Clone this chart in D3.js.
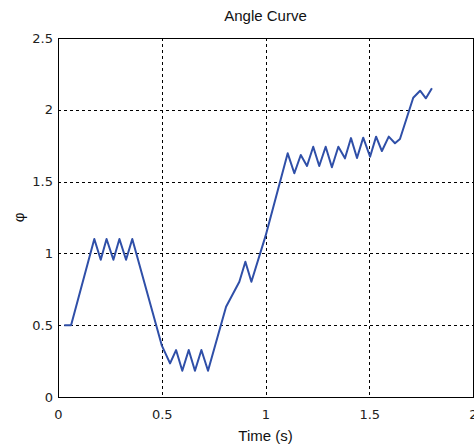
<!DOCTYPE html>
<html>
<head>
<meta charset="utf-8">
<script src="https://cdn.jsdelivr.net/npm/d3@7"></script>
<style>
  body { margin: 0; background: #fff; }
  svg { display: block; overflow: visible; }
</style>
</head>
<body>
<div id="chart"></div>
<script>
// Angle curve, values
const timeValues = [0.03, 0.063, 0.175, 0.206, 0.234, 0.267, 0.296, 0.328, 0.358, 0.5, 0.540,
    0.569, 0.599, 0.630, 0.660, 0.691, 0.723, 0.810, 0.874, 0.903, 0.932, 1.0, 1.107,
    1.139, 1.170, 1.200, 1.230, 1.259, 1.290, 1.320, 1.351, 1.383, 1.412, 1.441, 1.471,
    1.504, 1.533, 1.561, 1.594, 1.624, 1.648, 1.712, 1.745, 1.773, 1.802];
const angleValues = [0.5, 0.5, 1.10, 0.956, 1.10, 0.956, 1.10, 0.956, 1.10, 0.36, 0.234,
    0.327, 0.183, 0.327, 0.183, 0.327, 0.183, 0.629, 0.803, 0.942, 0.803, 1.12, 1.697,
    1.558, 1.685, 1.609, 1.743, 1.609, 1.743, 1.600, 1.743, 1.662, 1.803, 1.664, 1.806,
    1.673, 1.813, 1.713, 1.813, 1.767, 1.797, 2.084, 2.133, 2.080, 2.150];
const xTicks = [0, 0.5, 1, 1.5, 2];
const yTicks = [0, 0.5, 1, 1.5, 2, 2.5];
const xTickLabels = ["0", "0.5", "1", "1.5", "2"];
const yTickLabels = ["0", "0.5", "1", "1.5", "2", "2.5"];

const width = 474, height = 445;
const margin = {top: 38, left: 58, right: 1, bottom: 48};
const innerW = width - margin.left - margin.right;
const innerH = height - margin.top - margin.bottom;

const svg = d3.select('#chart')
    .append('svg')
    .attr('width', width)
    .attr('height', height);

const g = svg.append('g')
    .attr('transform', `translate(${margin.left}, ${margin.top})`);

const x = d3.scaleLinear().domain([0, 2]).range([0, innerW]);
const y = d3.scaleLinear().domain([0, 2.5]).range([innerH, 0]);

// dashed grid
g.selectAll('.vgrid')
    .data(xTicks.filter(d => d > 0 && d < 2))
    .join('line')
    .attr('x1', d => Math.round(x(d)) + 0.5)
    .attr('x2', d => Math.round(x(d)) + 0.5)
    .attr('y1', 0)
    .attr('y2', innerH)
    .attr('stroke', '#000')
    .attr('stroke-dasharray', '3,3');

g.selectAll('.hgrid')
    .data(yTicks.filter(d => d > 0 && d < 2.5))
    .join('line')
    .attr('y1', d => Math.round(y(d)) + 0.5)
    .attr('y2', d => Math.round(y(d)) + 0.5)
    .attr('x1', 0)
    .attr('x2', innerW)
    .attr('stroke', '#000')
    .attr('stroke-dasharray', '3,3');

// frame
g.append('rect')
    .attr('x', 0.5)
    .attr('y', 0.5)
    .attr('width', innerW)
    .attr('height', innerH)
    .attr('fill', 'none')
    .attr('stroke', '#000')
    .attr('stroke-width', 1);

// axes (labels only)
const xAxis = d3.axisBottom(x)
    .tickValues(xTicks)
    .tickFormat((d, i) => xTickLabels[i])
    .tickSize(0)
    .tickPadding(13);
const xg = g.append('g')
    .attr('transform', `translate(0, ${innerH})`)
    .call(xAxis);

const yAxis = d3.axisLeft(y)
    .tickValues(yTicks)
    .tickFormat((d, i) => yTickLabels[i])
    .tickSize(0)
    .tickPadding(5);
const yg = g.append('g').call(yAxis);

[xg, yg].forEach(a => {
    a.select('.domain').remove();
    a.selectAll('text')
        .attr('font-family', 'DejaVu Sans, Verdana, sans-serif')
        .attr('font-size', 13)
        .attr('fill', '#222');
});

// the curve
const data = timeValues.map((t, i) => ({t: t, v: angleValues[i]}));
const line = d3.line()
    .x(d => x(d.t))
    .y(d => y(d.v));

g.append('path')
    .datum(data)
    .attr('d', line)
    .attr('fill', 'none')
    .attr('stroke', '#2f4fa8')
    .attr('stroke-width', 2)
    .attr('stroke-linejoin', 'round');

// title and axis labels
svg.append('text')
    .attr('x', margin.left + innerW / 2)
    .attr('y', 21)
    .attr('text-anchor', 'middle')
    .attr('font-family', 'Liberation Sans, Arial, sans-serif')
    .attr('font-size', 15)
    .attr('fill', '#111')
    .text('Angle Curve');

svg.append('text')
    .attr('x', margin.left + innerW / 2)
    .attr('y', 441)
    .attr('text-anchor', 'middle')
    .attr('font-family', 'Liberation Sans, Arial, sans-serif')
    .attr('font-size', 15)
    .attr('fill', '#111')
    .text('Time (s)');

svg.append('text')
    .attr('transform', `translate(24, ${margin.top + innerH / 2}) rotate(-90)`)
    .attr('text-anchor', 'middle')
    .attr('font-family', 'Liberation Sans, Arial, sans-serif')
    .attr('font-size', 15)
    .attr('fill', '#111')
    .text('φ');
</script>
</body>
</html>
